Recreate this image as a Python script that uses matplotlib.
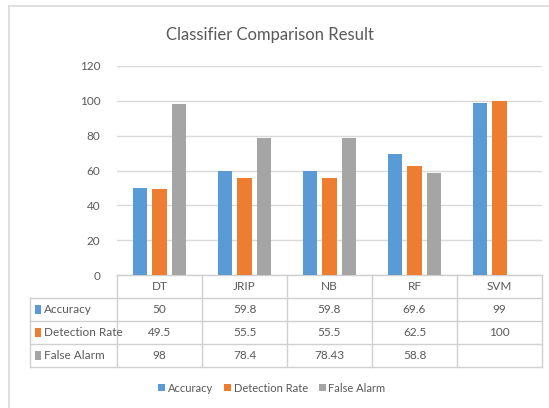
import matplotlib
matplotlib.use("Agg")
import matplotlib.pyplot as plt
import matplotlib.transforms as mtransforms
from matplotlib.lines import Line2D
from matplotlib.patches import Rectangle
import numpy as np

plt.rcParams['font.family'] = ['Lato', 'DejaVu Sans']

classifiers = ["DT", "JRIP", "NB", "RF", "SVM"]
series_names = ["Accuracy", "Detection Rate", "False Alarm"]
accuracy = [50, 59.8, 59.8, 69.6, 99]
detection_rate = [49.5, 55.5, 55.5, 62.5, 100]
false_alarm = [98, 78.4, 78.43, 58.8, None]
y_ticks = [0, 20, 40, 60, 80, 100, 120]

colors = ["#5B9BD5", "#ED7D31", "#A5A5A5"]
text_col = "#595959"
grid_col = "#D9D9D9"
W, H = 549, 408

fig = plt.figure(figsize=(W / 100, H / 100), dpi=100)

def fx(px):
    return px / W

def fy(py):
    return 1 - py / H

# outer chart frame
fig.add_artist(Line2D([fx(9), fx(9)], [fy(6), fy(408)], color=grid_col, lw=1.2))
fig.add_artist(Line2D([fx(9), fx(549)], [fy(6), fy(6)], color=grid_col, lw=1.2))

ax = fig.add_axes([fx(117), fy(275), fx(542) - fx(117), fy(66) - fy(275)])
x = np.arange(len(classifiers))
series = [accuracy, detection_rate, false_alarm]
width = 0.165
offsets = [-0.225, 0.0, 0.225]
for vals, off, c in zip(series, offsets, colors):
    xs = [xi + off for xi, v in zip(x, vals) if v is not None]
    hs = [v for v in vals if v is not None]
    ax.bar(xs, hs, width=width, color=c, zorder=3)

ax.set_xlim(-0.5, len(classifiers) - 0.5)
ax.set_ylim(0, 120)
ax.set_yticks(y_ticks)
ax.set_yticklabels([str(t) for t in y_ticks], color=text_col, fontsize=8.5)
ax.tick_params(axis='y', length=0, pad=12)
ax.set_xticks([])
ax.yaxis.grid(True, color=grid_col, lw=1.0, zorder=0)
for s in ax.spines.values():
    s.set_visible(False)

fig.text(fx(270), fy(35), "Classifier Comparison Result", color=text_col, fontsize=12,
         ha='center', va='center')

# data table under the axis
tr = mtransforms.blended_transform_factory(ax.transData, fig.transFigure)
label_left = -0.5 - 87 / 85
row_edges = [275, 298, 321, 344, 367]
tcol = "#D0D0D0"

def hline(x0, x1, py):
    ax.add_line(Line2D([x0, x1], [fy(py), fy(py)], transform=tr, color=tcol, lw=1.0, clip_on=False))

def vline(xv, py0, py1):
    ax.add_line(Line2D([xv, xv], [fy(py0), fy(py1)], transform=tr, color=tcol, lw=1.0, clip_on=False))

hline(-0.5, len(classifiers) - 0.5, row_edges[0])
for py in row_edges[1:]:
    hline(label_left, len(classifiers) - 0.5, py)
vline(label_left, row_edges[1], row_edges[-1])
for k in range(len(classifiers) + 1):
    vline(k - 0.5, row_edges[0], row_edges[-1])

def cy(i):
    return fy((row_edges[i] + row_edges[i + 1]) / 2)

fs = 8.5
for k, name in enumerate(classifiers):
    ax.text(k, cy(0), name, transform=tr, ha='center', va='center', color=text_col, fontsize=fs, clip_on=False)

for r, (name, vals, c) in enumerate(zip(series_names, series, colors)):
    yc = cy(r + 1)
    ax.add_patch(Rectangle((label_left + 0.06, yc - 0.012), 0.07, 0.024, transform=tr,
                           facecolor=c, edgecolor='none', clip_on=False))
    ax.text(label_left + 0.16, yc, name, transform=tr, ha='left', va='center', color=text_col, fontsize=fs, clip_on=False)
    for k, v in enumerate(vals):
        if v is not None:
            ax.text(k, yc, f"{v:g}", transform=tr, ha='center', va='center', color=text_col, fontsize=fs, clip_on=False)

# legend
handles = [Rectangle((0, 0), 1, 1, facecolor=c, edgecolor='none') for c in colors]
fig.legend(handles, series_names, loc='center', bbox_to_anchor=(fx(272), fy(388)), ncol=3,
           frameon=False, fontsize=8, labelcolor=text_col, handlelength=0.6, handleheight=0.6,
           handletextpad=0.25, columnspacing=1.0)

fig.savefig("out.png", dpi=100, facecolor="white")
